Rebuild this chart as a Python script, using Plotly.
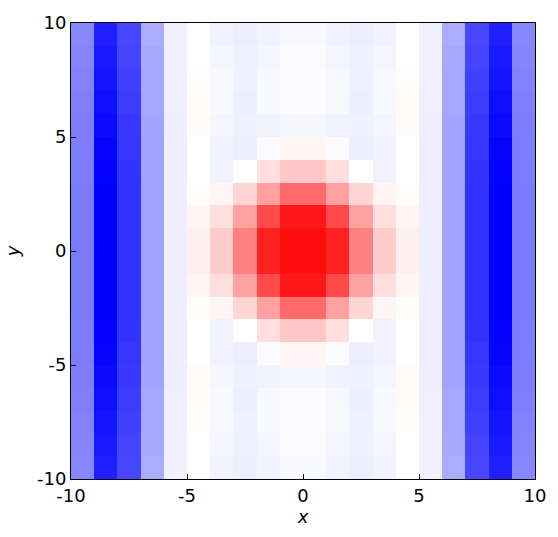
import plotly.graph_objects as go

# cell centres
x_centers = [-9.5, -8.5, -7.5, -6.5, -5.5, -4.5, -3.5, -2.5, -1.5, -0.5,
             0.5, 1.5, 2.5, 3.5, 4.5, 5.5, 6.5, 7.5, 8.5, 9.5]
y_centers = [-9.5, -8.5, -7.5, -6.5, -5.5, -4.5, -3.5, -2.5, -1.5, -0.5,
             0.5, 1.5, 2.5, 3.5, 4.5, 5.5, 6.5, 7.5, 8.5, 9.5]

# values, rows from bottom (y=-9.5) to top (y=9.5)
z_values = [
    [-0.47, -0.875, -0.72, -0.33, -0.06, 0.0, -0.05, -0.067, -0.05, -0.027, -0.027, -0.05, -0.067, -0.05, 0.0, -0.06, -0.33, -0.72, -0.875, -0.47],
    [-0.48, -0.90, -0.73, -0.34, -0.06, 0.0, -0.04, -0.06, -0.04, -0.015, -0.015, -0.04, -0.06, -0.04, 0.0, -0.06, -0.34, -0.73, -0.90, -0.48],
    [-0.49, -0.92, -0.75, -0.345, -0.06, 0.01, -0.027, -0.06, -0.027, -0.01, -0.01, -0.027, -0.06, -0.027, 0.01, -0.06, -0.345, -0.75, -0.92, -0.49],
    [-0.50, -0.94, -0.765, -0.35, -0.063, 0.015, -0.027, -0.067, -0.027, -0.012, -0.012, -0.027, -0.067, -0.027, 0.015, -0.063, -0.35, -0.765, -0.94, -0.50],
    [-0.505, -0.96, -0.78, -0.355, -0.065, 0.015, -0.04, -0.06, -0.05, -0.035, -0.035, -0.05, -0.06, -0.04, 0.015, -0.065, -0.355, -0.78, -0.96, -0.505],
    [-0.51, -0.98, -0.79, -0.36, -0.065, 0.0, -0.05, -0.067, -0.02, 0.04, 0.04, -0.02, -0.067, -0.05, 0.0, -0.065, -0.36, -0.79, -0.98, -0.51],
    [-0.515, -0.99, -0.80, -0.365, -0.067, 0.0, -0.05, 0.0, 0.13, 0.22, 0.22, 0.13, 0.0, -0.05, 0.0, -0.067, -0.365, -0.80, -0.99, -0.515],
    [-0.52, -1.0, -0.81, -0.37, -0.067, 0.01, 0.04, 0.165, 0.37, 0.58, 0.58, 0.37, 0.165, 0.04, 0.01, -0.067, -0.37, -0.81, -1.0, -0.52],
    [-0.52, -1.0, -0.81, -0.37, -0.067, 0.04, 0.13, 0.37, 0.71, 0.90, 0.90, 0.71, 0.37, 0.13, 0.04, -0.067, -0.37, -0.81, -1.0, -0.52],
    [-0.52, -1.0, -0.81, -0.37, -0.067, 0.06, 0.20, 0.50, 0.875, 0.945, 0.945, 0.875, 0.50, 0.20, 0.06, -0.067, -0.37, -0.81, -1.0, -0.52],
    [-0.52, -1.0, -0.81, -0.37, -0.067, 0.06, 0.20, 0.50, 0.875, 0.945, 0.945, 0.875, 0.50, 0.20, 0.06, -0.067, -0.37, -0.81, -1.0, -0.52],
    [-0.52, -1.0, -0.81, -0.37, -0.067, 0.04, 0.13, 0.37, 0.71, 0.90, 0.90, 0.71, 0.37, 0.13, 0.04, -0.067, -0.37, -0.81, -1.0, -0.52],
    [-0.52, -1.0, -0.81, -0.37, -0.067, 0.01, 0.04, 0.165, 0.37, 0.58, 0.58, 0.37, 0.165, 0.04, 0.01, -0.067, -0.37, -0.81, -1.0, -0.52],
    [-0.515, -0.99, -0.80, -0.365, -0.067, 0.0, -0.05, 0.0, 0.13, 0.22, 0.22, 0.13, 0.0, -0.05, 0.0, -0.067, -0.365, -0.80, -0.99, -0.515],
    [-0.51, -0.98, -0.79, -0.36, -0.065, 0.0, -0.05, -0.067, -0.02, 0.04, 0.04, -0.02, -0.067, -0.05, 0.0, -0.065, -0.36, -0.79, -0.98, -0.51],
    [-0.505, -0.96, -0.78, -0.355, -0.065, 0.015, -0.04, -0.06, -0.05, -0.035, -0.035, -0.05, -0.06, -0.04, 0.015, -0.065, -0.355, -0.78, -0.96, -0.505],
    [-0.50, -0.94, -0.765, -0.35, -0.063, 0.015, -0.027, -0.067, -0.027, -0.012, -0.012, -0.027, -0.067, -0.027, 0.015, -0.063, -0.35, -0.765, -0.94, -0.50],
    [-0.49, -0.92, -0.75, -0.345, -0.06, 0.01, -0.027, -0.06, -0.027, -0.01, -0.01, -0.027, -0.06, -0.027, 0.01, -0.06, -0.345, -0.75, -0.92, -0.49],
    [-0.48, -0.90, -0.73, -0.34, -0.06, 0.0, -0.04, -0.06, -0.04, -0.015, -0.015, -0.04, -0.06, -0.04, 0.0, -0.06, -0.34, -0.73, -0.90, -0.48],
    [-0.47, -0.875, -0.72, -0.33, -0.06, 0.0, -0.05, -0.067, -0.05, -0.027, -0.027, -0.05, -0.067, -0.05, 0.0, -0.06, -0.33, -0.72, -0.875, -0.47],
]

tick_vals = [-10, -5, 0, 5, 10]
tick_text = ["-10", "-5", "0", "5", "10"]

fig = go.Figure(go.Heatmap(
    x=x_centers, y=y_centers, z=z_values,
    zmin=-1, zmax=1,
    colorscale=[[0, "rgb(0,0,255)"], [0.5, "rgb(255,255,255)"], [1, "rgb(255,0,0)"]],
    showscale=False,
    hoverinfo="skip",
))

axis_common = dict(
    range=[-10, 10], tickmode="array", tickvals=tick_vals, ticktext=tick_text,
    ticks="inside", ticklen=5, tickwidth=1, tickcolor="black",
    showline=True, linecolor="black", linewidth=1, mirror=True,
    showgrid=False, zeroline=False, fixedrange=True,
    tickfont=dict(family="DejaVu Sans", size=18, color="black"),
)

fig.update_layout(
    width=558, height=537,
    margin=dict(l=71, r=22, t=17, b=58),
    paper_bgcolor="white", plot_bgcolor="white",
    font=dict(family="DejaVu Sans", color="black"),
    xaxis=dict(**axis_common,
               title=dict(text="<i>x</i>", font=dict(family="DejaVu Sans", size=18), standoff=5)),
    yaxis=dict(**axis_common,
               title=dict(text="<i>y</i>", font=dict(family="DejaVu Sans", size=18), standoff=12)),
)

fig.write_html("out.html",
               config={"displayModeBar": False, "staticPlot": True},
               post_script="document.body.style.margin='0';document.body.style.overflow='hidden';")
